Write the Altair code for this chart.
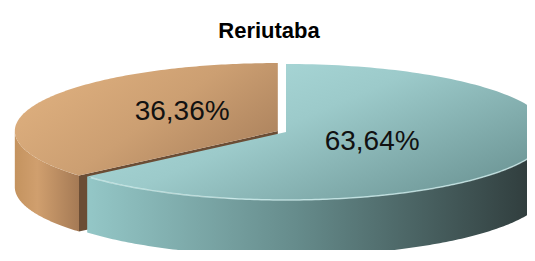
import numpy as np
import pandas as pd
import altair as alt

# ---- data ----
title_text = "Reriutaba"
slice_names = ["A", "B"]
slice_values = [63.64, 36.36]
slice_labels = ["63,64%", "36,36%"]

# ---- layout (reference pixel space) ----
CX, CY = 286.0, 132.0      # centre of the top face
RA, RB = 263.0, 68.0       # ellipse semi-axes
DEPTH = 56.0               # pie thickness
EXPLODE = [0.0, 9.0]       # explode distance per slice
N = 160

total = sum(slice_values)
fr = [v / total for v in slice_values]
starts = np.cumsum([0.0] + fr[:-1]) * 360.0
ends = np.cumsum(fr) * 360.0


def pt(cx, cy, deg, r=1.0):
    t = np.radians(deg)
    return cx + RA * r * np.sin(t), cy - RB * r * np.cos(t)


def centre(i):
    mid = np.radians((starts[i] + ends[i]) / 2)
    d = EXPLODE[i]
    return CX + d * np.sin(mid), CY - d * (RB / RA) * np.cos(mid)


def arc(cx, cy, a0, a1, dy=0.0):
    ts = np.linspace(a0, a1, N)
    xs, ys = pt(cx, cy, ts)
    return list(xs), list(ys + dy)


def top_face(i):
    cx, cy = centre(i)
    xs, ys = arc(cx, cy, starts[i], ends[i])
    X = [cx] + xs + [cx]
    Y = [cy] + ys + [cy]
    return pd.DataFrame({"x": X, "y": Y, "o": range(len(X))})


def side_face(i):
    cx, cy = centre(i)
    a0, a1 = max(starts[i], 90.0), min(ends[i], 270.0)
    xs, ys = arc(cx, cy, a0, a1)
    X = xs + xs[::-1] + [xs[0]]
    Y = ys + [y + DEPTH for y in ys[::-1]] + [ys[0]]
    return pd.DataFrame({"x": X, "y": Y, "o": range(len(X))})


def cut_face(i, deg):
    cx, cy = centre(i)
    px, py = pt(cx, cy, deg)
    X = [cx, px, px, cx, cx]
    Y = [cy, py, py + DEPTH, cy + DEPTH, cy]
    return pd.DataFrame({"x": X, "y": Y, "o": range(len(X))})


def front_edge(i):
    cx, cy = centre(i)
    xs, ys = arc(cx, cy, max(starts[i], 95.0), min(ends[i], 228.0))
    return pd.DataFrame({"x": xs, "y": ys, "o": range(len(xs))})


W, H = 519, 242
xs_scale = alt.Scale(domain=[8, 8 + W], range=[0, W], nice=False, zero=False)
ys_scale = alt.Scale(domain=[8, 8 + H], range=[0, H], nice=False, zero=False)


def enc(ch):
    return ch.encode(
        x=alt.X("x:Q", scale=xs_scale, axis=None),
        y=alt.Y("y:Q", scale=ys_scale, axis=None),
        order="o:Q",
    )


def grad(stops, x2=1, y2=0):
    return alt.Gradient(
        gradient="linear",
        stops=[alt.GradientStop(color=c, offset=o) for o, c in stops],
        x1=0, y1=0, x2=x2, y2=y2,
    )


def poly(df, fill):
    return enc(alt.Chart(df).mark_line(fill=fill, strokeOpacity=0, strokeWidth=0, clip=True))


orange_side = poly(side_face(1), grad([(0, "#c4935f"), (0.35, "#d09f6e"), (1, "#a57a55")]))
orange_cut = poly(cut_face(1, starts[1]), "#6b4d35")
orange_top = poly(top_face(1), grad([(0, "#e3b482"), (0.6, "#cc9f72"), (1, "#b08660")], x2=1, y2=0.6))
teal_side = poly(side_face(0), grad([(0, "#94c7c7"), (0.45, "#668c8c"), (1, "#2c3737")]))
teal_top = poly(top_face(0), grad([(0, "#b2e1e1"), (0.5, "#9ccaca"), (1, "#6f9898")], x2=1, y2=0.7))
teal_edge = enc(alt.Chart(front_edge(0)).mark_line(color="#d6f3f3", strokeWidth=1.5, opacity=0.7, clip=True))

# labels
lab_r = [0.36, 0.40]
lab_x, lab_y = [], []
for i in range(len(slice_values)):
    cx, cy = centre(i)
    x, y = pt(cx, cy, (starts[i] + ends[i]) / 2, lab_r[i])
    lab_x.append(x)
    lab_y.append(y)
lab_y[1] -= 8
labels_df = pd.DataFrame({"x": lab_x, "y": lab_y, "label": slice_labels})
labels = alt.Chart(labels_df).mark_text(
    font="Liberation Sans", fontSize=28, color="#111111", baseline="middle", align="center"
).encode(
    x=alt.X("x:Q", scale=xs_scale, axis=None),
    y=alt.Y("y:Q", scale=ys_scale, axis=None),
    text="label:N",
)

title_df = pd.DataFrame({"x": [269.0], "y": [38.0], "t": [title_text]})
title = alt.Chart(title_df).mark_text(
    font="Liberation Sans", fontSize=22, fontWeight="bold", color="#000000",
    baseline="alphabetic", align="center"
).encode(
    x=alt.X("x:Q", scale=xs_scale, axis=None),
    y=alt.Y("y:Q", scale=ys_scale, axis=None),
    text="t:N",
)

chart = alt.layer(
    orange_side, orange_cut, orange_top, teal_side, teal_top, teal_edge, labels, title
).properties(
    width=W, height=H, padding=0, autosize="none", background="#ffffff"
).configure_view(stroke=None)

chart.save("out.html", embed_options={"renderer": "svg", "actions": False})
